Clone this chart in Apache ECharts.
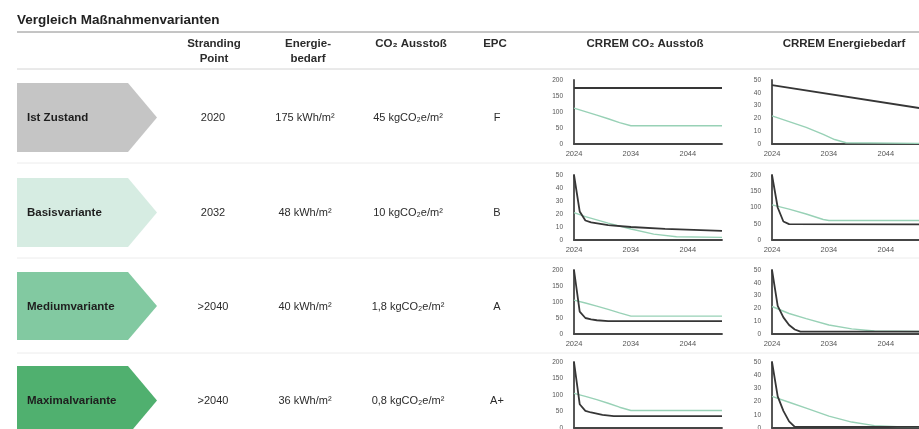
<!DOCTYPE html>
<html>
<head>
<meta charset="utf-8">
<script src="https://cdn.jsdelivr.net/npm/echarts@6/dist/echarts.min.js"></script>
<style>
  html, body { margin: 0; padding: 0; background: #fff; }
  #chart { width: 919px; height: 429px; }
</style>
</head>
<body>
<div id="chart"></div>
<script>
// ---- table content ----
const varianten = ['Ist Zustand', 'Basisvariante', 'Mediumvariante', 'Maximalvariante'];
const strandingPoint = ['2020', '2032', '>2040', '>2040'];
const energiebedarf = ['175 kWh/m²', '48 kWh/m²', '40 kWh/m²', '36 kWh/m²'];
const co2Ausstoss = ['45 kgCO₂e/m²', '10 kgCO₂e/m²', '1,8 kgCO₂e/m²', '0,8 kgCO₂e/m²'];
const epcKlasse = ['F', 'B', 'A', 'A+'];

// ---- mini chart axes ----
const jahrStart = 2024;
const jahrEnde = 2050;
const jahrSchritt = 10;
const co2Skala = [200, 50, 200, 200];
const co2Schritt = [50, 10, 50, 50];
const energieSkala = [50, 200, 50, 50];
const energieSchritt = [10, 50, 10, 10];

// ---- column "CRREM CO₂ Ausstoß": building line and CRREM pathway per variant ----
const co2Gebaeude = [
  [[2024, 175], [2050, 175]],
  [[2024, 50], [2025, 22], [2026, 15], [2027, 13.5], [2030, 11.5], [2034, 10], [2040, 8.5], [2050, 7]],
  [[2024, 200], [2025, 70], [2026, 50], [2027, 46], [2028, 43], [2030, 40], [2050, 40]],
  [[2024, 200], [2025, 72], [2026, 52], [2027, 47], [2029, 40], [2031, 36], [2050, 36]]
];
const co2Pfad = [
  [[2024, 112], [2026, 101], [2028, 90], [2030, 79], [2032, 67], [2034, 57], [2050, 57]],
  [[2024, 21], [2026, 18], [2030, 13], [2034, 8.5], [2038, 4.5], [2042, 2.5], [2050, 2]],
  [[2024, 106], [2026, 97], [2028, 87], [2030, 77], [2032, 66], [2034, 56], [2050, 56]],
  [[2024, 105], [2026, 96], [2028, 86], [2030, 75], [2032, 63], [2034, 53], [2050, 53]]
];

// ---- column "CRREM Energiebedarf" ----
const energieGebaeude = [
  [[2024, 46], [2050, 28]],
  [[2024, 200], [2025, 100], [2026, 57], [2027, 49], [2050, 48]],
  [[2024, 50], [2025, 22], [2026, 13], [2027, 7], [2028, 3.5], [2029, 1.8], [2050, 1.8]],
  [[2024, 50], [2025, 24], [2026, 13], [2027, 5], [2028, 0.8], [2050, 0.8]]
];
const energiePfad = [
  [[2024, 22], [2027, 17.5], [2030, 13], [2033, 7.5], [2035, 3.5], [2037, 1], [2050, 0.5]],
  [[2024, 108], [2027, 95], [2030, 80], [2033, 63], [2034, 60], [2050, 60]],
  [[2024, 21.5], [2027, 16], [2030, 12], [2034, 7], [2038, 4], [2042, 2.3], [2050, 2]],
  [[2024, 24], [2027, 19.5], [2030, 15], [2034, 9], [2038, 4.5], [2042, 1.8], [2046, 1], [2050, 0.8]]
];

// ---- layout ----
const FONT = '"Liberation Sans", Arial, sans-serif';
const rowMid = [118, 213, 307, 401];
const rowBand = [[83, 152], [178, 247], [272, 340], [366, 435]];
const arrowFill = ['#c5c5c5', '#d6ece2', '#82c9a1', '#50b06f'];
const plotTop = [80, 175, 270, 362];
const plotHeight = [64, 65, 64, 66];
const colLeft = [574, 772];
const plotWidth = 148;
const colX = { stranding: 213, energie: 305, co2: 408, epc: 497 };

const gebaeudeColor = '#363636';
const pfadColor = '#98d1b6';

function txt(text, x, y, opts) {
  return {
    type: 'text', x: x, y: y, silent: true,
    style: Object.assign({
      text: text, fill: '#2b2b2b',
      font: '11px ' + FONT,
      textAlign: 'center', textVerticalAlign: 'middle'
    }, opts || {})
  };
}

const graphics = [];
graphics.push(txt('Vergleich Maßnahmenvarianten', 17, 20, { textAlign: 'left', font: 'bold 13.5px ' + FONT, fill: '#222' }));
graphics.push({ type: 'line', shape: { x1: 17, y1: 32, x2: 919, y2: 32 }, style: { stroke: '#8a8a8a', lineWidth: 1 } });
graphics.push({ type: 'line', shape: { x1: 17, y1: 69, x2: 919, y2: 69 }, style: { stroke: '#d4d4d4', lineWidth: 1 } });
[163, 258, 353].forEach(function (y) {
  graphics.push({ type: 'line', shape: { x1: 17, y1: y, x2: 919, y2: y }, style: { stroke: '#ececec', lineWidth: 1 } });
});

const headFont = 'bold 11.5px ' + FONT;
graphics.push(txt('Stranding', 214, 44, { font: headFont }));
graphics.push(txt('Point', 214, 59, { font: headFont }));
graphics.push(txt('Energie-', 308, 44, { font: headFont }));
graphics.push(txt('bedarf', 308, 59, { font: headFont }));
graphics.push(txt('CO₂ Ausstoß', 411, 44, { font: headFont }));
graphics.push(txt('EPC', 495, 44, { font: headFont }));
graphics.push(txt('CRREM CO₂ Ausstoß', 645, 44, { font: headFont }));
graphics.push(txt('CRREM Energiebedarf', 844, 44, { font: headFont }));

varianten.forEach(function (name, i) {
  const top = rowBand[i][0], bot = rowBand[i][1], mid = (top + bot) / 2;
  graphics.push({
    type: 'polygon', silent: true,
    shape: { points: [[17, top], [128, top], [157, mid], [128, bot], [17, bot]] },
    style: { fill: arrowFill[i] }
  });
  graphics.push(txt(name, 27, rowMid[i], { textAlign: 'left', font: 'bold 11.5px ' + FONT, fill: '#1e1e1e' }));
  graphics.push(txt(strandingPoint[i], colX.stranding, rowMid[i]));
  graphics.push(txt(energiebedarf[i], colX.energie, rowMid[i]));
  graphics.push(txt(co2Ausstoss[i], colX.co2, rowMid[i]));
  graphics.push(txt(epcKlasse[i], colX.epc, rowMid[i]));
});

// ---- mini charts: one grid per row and column ----
const grids = [], xAxes = [], yAxes = [], series = [];
const axisLine = { show: true, lineStyle: { color: '#454545', width: 1.8 } };
const labelStyle = { color: '#555', fontFamily: FONT };

function addChart(row, col, maxVal, step, gebaeude, pfad) {
  const idx = grids.length;
  grids.push({
    left: colLeft[col], top: plotTop[row], width: plotWidth, height: plotHeight[row],
    outerBoundsMode: 'none', containLabel: false
  });
  xAxes.push({
    gridIndex: idx, type: 'value', min: jahrStart, max: jahrEnde, interval: jahrSchritt,
    axisLine: axisLine, axisTick: { show: false }, splitLine: { show: false },
    axisLabel: Object.assign({ fontSize: 7.5, margin: 6, showMaxLabel: false, formatter: function (v) { return String(v); } }, labelStyle)
  });
  yAxes.push({
    gridIndex: idx, type: 'value', min: 0, max: maxVal, interval: step,
    axisLine: axisLine, axisTick: { show: false }, splitLine: { show: false },
    axisLabel: Object.assign({ fontSize: 6.5, margin: 11 }, labelStyle)
  });
  series.push({
    type: 'line', xAxisIndex: idx, yAxisIndex: idx, data: pfad,
    showSymbol: false, smooth: false, z: 2,
    lineStyle: { color: pfadColor, width: 1.4 }
  });
  series.push({
    type: 'line', xAxisIndex: idx, yAxisIndex: idx, data: gebaeude,
    showSymbol: false, smooth: false, z: 3,
    lineStyle: { color: gebaeudeColor, width: 1.8 }
  });
}

for (let r = 0; r < varianten.length; r++) {
  addChart(r, 0, co2Skala[r], co2Schritt[r], co2Gebaeude[r], co2Pfad[r]);
  addChart(r, 1, energieSkala[r], energieSchritt[r], energieGebaeude[r], energiePfad[r]);
}

const chart = echarts.init(document.getElementById('chart'), null, { renderer: 'canvas' });
chart.setOption({
  backgroundColor: '#ffffff',
  animation: false,
  grid: grids,
  xAxis: xAxes,
  yAxis: yAxes,
  series: series,
  graphic: graphics
});
</script>
</body>
</html>
